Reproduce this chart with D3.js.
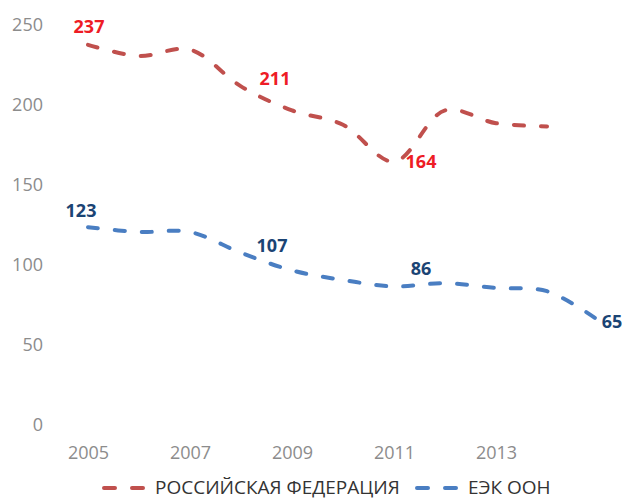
<!DOCTYPE html>
<html>
<head>
<meta charset="utf-8">
<script src="https://cdn.jsdelivr.net/npm/d3@7"></script>
<style>
  html, body { margin: 0; padding: 0; background: #fff; }
  svg { display: block; font-family: "Open Sans", "DejaVu Sans", sans-serif; }
</style>
</head>
<body>
<svg id="chart" width="622" height="499"></svg>
<script>
// Years on the category axis
const years = [2005, 2006, 2007, 2008, 2009, 2010, 2011, 2012, 2013, 2014, 2015];
// Russian Federation (no value for 2015)
const russia = [237, 230, 234, 211, 196, 187, 164, 196, 188, 186, null];
// UNECE
const unece = [123, 120, 120, 107, 96, 90, 86, 88, 85, 83, 65];
// Axis tick labels
const xTickYears = [2005, 2007, 2009, 2011, 2013];
const yTickValues = [0, 50, 100, 150, 200, 250];
// Legend names
const seriesNames = ["РОССИЙСКАЯ ФЕДЕРАЦИЯ", "ЕЭК ООН"];
// Years whose values are written on the chart
const russiaLabelYears = [2005, 2008, 2011];
const uneceLabelYears = [2005, 2008, 2011, 2015];

const svg = d3.select("#chart");

const x = d3.scaleLinear().domain([2005, 2015]).range([88, 598]);
const y = d3.scaleLinear().domain([0, 250]).range([424, 24]);

const redLine = "#C0504D", blueLine = "#4A7EC2";
const redText = "#EE1C25", blueText = "#1B4474";

// Y axis: labels only
const yAxis = d3.axisLeft(y).tickValues(yTickValues).tickSize(0).tickPadding(0);
svg.append("g")
  .attr("transform", "translate(43,0)")
  .call(yAxis)
  .call(g => g.select(".domain").remove())
  .call(g => g.selectAll("text")
    .attr("fill", "#8C8C8C")
    .style("font-size", "18px")
    .style("font-family", "'Open Sans', sans-serif")
    .attr("dy", "0.35em"));

// X axis: labels only
const xAxis = d3.axisBottom(x).tickValues(xTickYears).tickFormat(d3.format("d")).tickSize(0).tickPadding(0);
svg.append("g")
  .attr("transform", "translate(0,446)")
  .call(xAxis)
  .call(g => g.select(".domain").remove())
  .call(g => g.selectAll("text")
    .attr("fill", "#8C8C8C")
    .style("font-size", "18px")
    .style("font-family", "'Open Sans', sans-serif")
    .attr("dy", "0.71em"));

const line = d3.line()
  .defined(d => d.v != null)
  .x(d => x(d.year))
  .y(d => y(d.v))
  .curve(d3.curveCatmullRom.alpha(0.5));

function series(values) {
  return years.map((year, i) => ({ year, v: values[i] }));
}

const dash = "10 17";

svg.append("path")
  .datum(series(russia))
  .attr("d", line)
  .attr("fill", "none")
  .attr("stroke", redLine)
  .attr("stroke-width", 4)
  .attr("stroke-linecap", "round")
  .attr("stroke-dasharray", dash);

svg.append("path")
  .datum(series(unece))
  .attr("d", line)
  .attr("fill", "none")
  .attr("stroke", blueLine)
  .attr("stroke-width", 4)
  .attr("stroke-linecap", "round")
  .attr("stroke-dasharray", dash);

// Value labels: offset from each point
const russiaOffsets = { 2005: [1, -12], 2008: [34, -1], 2011: [27, 6] };
const uneceOffsets = { 2005: [-7, -10], 2008: [31, -1], 2011: [27, -11], 2015: [14, 8] };

function addLabels(values, labelYears, offsets, color) {
  svg.append("g").selectAll("text")
    .data(labelYears)
    .join("text")
    .attr("x", yr => x(yr) + offsets[yr][0])
    .attr("y", yr => y(values[years.indexOf(yr)]) + offsets[yr][1])
    .attr("text-anchor", "middle")
    .attr("fill", color)
    .style("font-size", "18px")
    .style("font-weight", "bold")
    .text(yr => values[years.indexOf(yr)]);
}
addLabels(russia, russiaLabelYears, russiaOffsets, redText);
addLabels(unece, uneceLabelYears, uneceOffsets, blueText);

// Legend (text baseline kept inside the drawing)
const legendBaseline = 494;
const legendItems = [
  { name: seriesNames[0], color: redLine, x0: 102 },
  { name: seriesNames[1], color: blueLine, x0: 415 }
];
const legend = svg.append("g");
legendItems.forEach(item => {
  legend.append("line")
    .attr("x1", item.x0 + 2).attr("x2", item.x0 + 43)
    .attr("y1", legendBaseline - 6).attr("y2", legendBaseline - 6)
    .attr("stroke", item.color)
    .attr("stroke-width", 4)
    .attr("stroke-linecap", "round")
    .attr("stroke-dasharray", "11 17");
  legend.append("text")
    .attr("x", item.x0 + 53)
    .attr("y", legendBaseline)
    .attr("fill", "#333333")
    .style("font-size", "19px")
    .text(item.name);
});
</script>
</body>
</html>
